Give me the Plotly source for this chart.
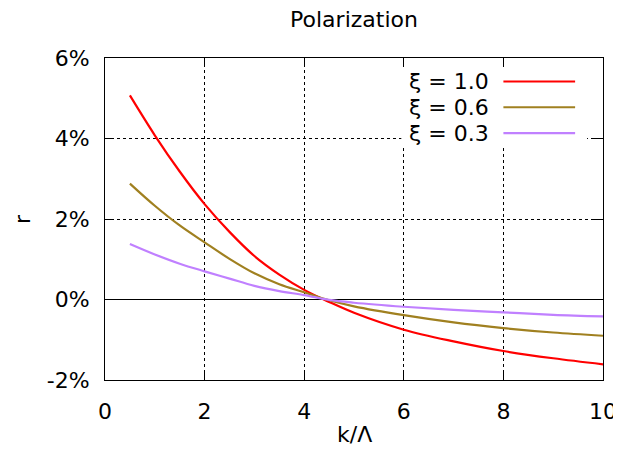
import plotly.graph_objects as go

k_values = [0.5, 1.0, 1.5, 2.0, 2.5, 3.0, 3.5, 4.0, 4.5, 5.0, 6.0, 7.0, 8.0, 9.0, 10.0]
r_xi_10 = [5.07, 4.08, 3.18, 2.37, 1.68, 1.08, 0.62, 0.24, -0.06, -0.33, -0.75, -1.04, -1.28, -1.46, -1.61]
r_xi_06 = [2.88, 2.33, 1.84, 1.42, 1.01, 0.65, 0.38, 0.18, -0.02, -0.17, -0.39, -0.57, -0.71, -0.82, -0.90]
r_xi_03 = [1.38, 1.12, 0.89, 0.70, 0.52, 0.34, 0.21, 0.11, -0.01, -0.08, -0.18, -0.26, -0.32, -0.38, -0.42]

series_names = ["ξ = 1.0", "ξ = 0.6", "ξ = 0.3"]
series_values = [r_xi_10, r_xi_06, r_xi_03]
series_colors = ["#ff0000", "#a08020", "#c080ff"]

x_ticks = [0, 2, 4, 6, 8, 10]
x_tick_labels = ["0", "2", "4", "6", "8", "10"]
y_ticks = [-2, 0, 2, 4, 6]
y_tick_labels = ["-2%", "0%", "2%", "4%", "6%"]

x_title = "k/Λ"
y_title = "r"
chart_title = "Polarization"

FONT = "DejaVu Sans"
FS = 22

fig = go.Figure()
for name, vals, col in zip(series_names, series_values, series_colors):
    fig.add_trace(go.Scatter(x=k_values, y=vals, mode="lines", name=name,
                             line=dict(color=col, width=2.2, shape="spline"),
                             showlegend=False))

# custom gnuplot-style key: text left of sample line
shapes = [dict(type="rect", xref="paper", yref="paper", x0=0.595, x1=0.968,
               y0=0.726, y1=0.971, fillcolor="white", line=dict(width=0), layer="above")]
annotations = []
rows_y = [0.927, 0.847, 0.767]
for name, col, yy in zip(series_names, series_colors, rows_y):
    shapes.append(dict(type="line", xref="paper", yref="paper", x0=0.80, x1=0.944,
                       y0=yy, y1=yy, line=dict(color=col, width=2.2), layer="above"))
    annotations.append(dict(xref="paper", yref="paper", x=0.775, y=yy, text=name,
                            showarrow=False, xanchor="right", yanchor="middle",
                            font=dict(family=FONT, size=FS, color="black")))

# axis titles
annotations.append(dict(xref="paper", yref="paper", x=0.5, y=0, yshift=-54, text=x_title,
                        showarrow=False, xanchor="center", yanchor="middle",
                        font=dict(family=FONT, size=FS, color="black")))
annotations.append(dict(xref="paper", yref="paper", x=0, y=0.5, xshift=-83, text=y_title,
                        textangle=-90, showarrow=False, xanchor="center", yanchor="middle",
                        font=dict(family=FONT, size=FS, color="black")))

fig.update_layout(
    width=613, height=439,
    margin=dict(l=97, r=18, t=49.5, b=67),
    paper_bgcolor="white", plot_bgcolor="white",
    font=dict(family=FONT, size=FS, color="black"),
    title=dict(text=chart_title, xref="paper", x=0.5, xanchor="center",
               yref="container", y=0.975, yanchor="middle",
               font=dict(family=FONT, size=FS, color="black")),
    shapes=shapes, annotations=annotations,
    showlegend=False,
)
fig.update_xaxes(range=[0, 10], tickvals=x_ticks, ticktext=x_tick_labels, ticks="inside",
                 ticklen=9, tickcolor="black",
                 showline=True, linecolor="black", linewidth=1, mirror="ticks",
                 showgrid=True, gridcolor="black", griddash="dot", gridwidth=1,
                 zeroline=False, ticklabelstandoff=12, automargin=False,
                 ticklabeloverflow="allow")
fig.update_yaxes(range=[-2, 6], tickvals=y_ticks, ticktext=y_tick_labels, ticks="inside",
                 ticklen=9, tickcolor="black", showline=True, linecolor="black", linewidth=1,
                 mirror="ticks",
                 showgrid=True, gridcolor="black", griddash="dot", gridwidth=1,
                 zeroline=True, zerolinecolor="black", zerolinewidth=1.3, ticklabelstandoff=10,
                 automargin=False)

fig.write_html("out.html")
